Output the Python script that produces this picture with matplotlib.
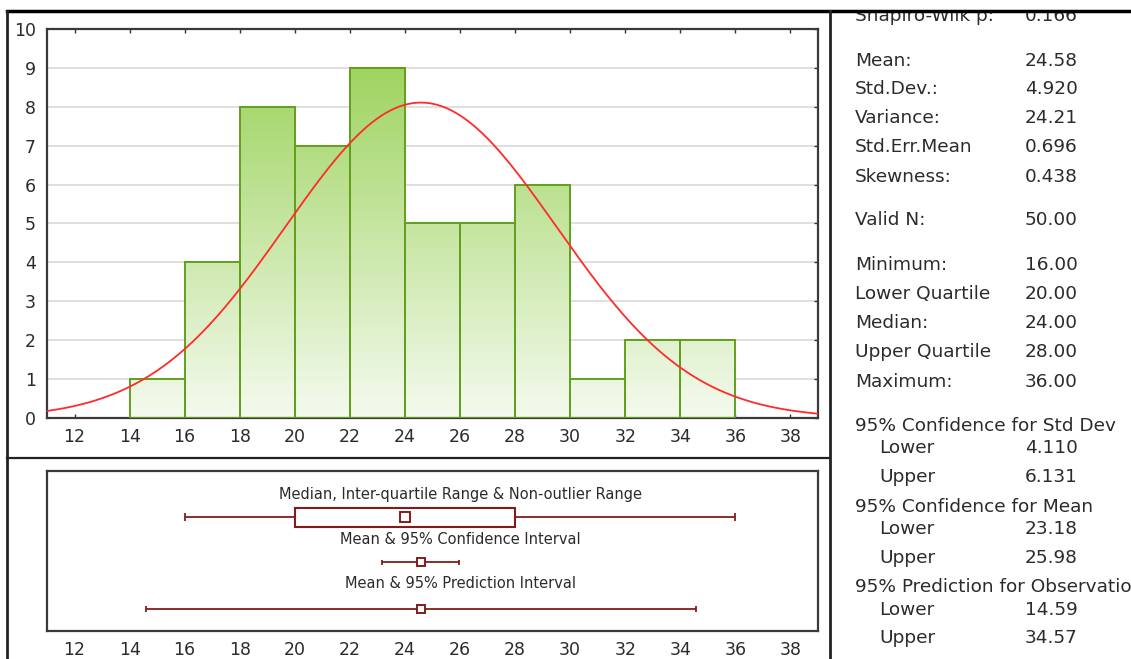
import matplotlib.pyplot as plt
import numpy as np
from matplotlib.colors import LinearSegmentedColormap
from matplotlib.lines import Line2D
from matplotlib.patches import Rectangle

plt.rcParams['font.family'] = ['DejaVu Sans']

# histogram of the 50 observations (bin width 2)
bin_edges = [14, 16, 18, 20, 22, 24, 26, 28, 30, 32, 34, 36]
counts = [1, 4, 8, 7, 9, 5, 5, 6, 1, 2, 2]

# descriptive statistics
shapiro_p = 0.166
mean = 24.58
std_dev = 4.920
variance = 24.21
std_err_mean = 0.696
skewness = 0.438
n_valid = 50
minimum = 16.0
lower_q = 20.0
median = 24.0
upper_q = 28.0
maximum = 36.0
ci_std = (4.110, 6.131)
ci_mean = (23.18, 25.98)
pred_obs = (14.59, 34.57)

x_ticks = list(range(12, 39, 2))
y_ticks = list(range(0, 11))

stat_names = ['Shapiro-Wilk p:', 'Mean:', 'Std.Dev.:', 'Variance:', 'Std.Err.Mean',
              'Skewness:', 'Valid N:', 'Minimum:', 'Lower Quartile', 'Median:',
              'Upper Quartile', 'Maximum:', '95% Confidence for Std Dev', 'Lower',
              'Upper', '95% Confidence for Mean', 'Lower', 'Upper',
              '95% Prediction for Observation', 'Lower', 'Upper']
stat_values = [f'{shapiro_p:.3f}', f'{mean:.2f}', f'{std_dev:.3f}', f'{variance:.2f}',
               f'{std_err_mean:.3f}', f'{skewness:.3f}', f'{n_valid:.2f}',
               f'{minimum:.2f}', f'{lower_q:.2f}', f'{median:.2f}', f'{upper_q:.2f}',
               f'{maximum:.2f}', '', f'{ci_std[0]:.3f}', f'{ci_std[1]:.3f}', '',
               f'{ci_mean[0]:.2f}', f'{ci_mean[1]:.2f}', '',
               f'{pred_obs[0]:.2f}', f'{pred_obs[1]:.2f}']

# layout in pixels
W, H = 1131, 659
row_y = [16, 61, 89, 118, 147, 177, 220, 265, 294, 323, 352, 382,
         426, 448, 477, 507, 529, 558, 587, 610, 638]


def fx(px):
    return px / W


def fy(py):
    return 1 - py / H


TXT = '#2b2b2b'
MAROON = '#821c1c'

fig = plt.figure(figsize=(W / 100, H / 100), dpi=100)

# ---- histogram with fitted normal curve ----
ax = fig.add_axes([fx(47), fy(418), fx(818) - fx(47), fy(29) - fy(418)])
cmap = LinearSegmentedColormap.from_list('bar_fill', ['#f4faee', '#9bd25a'])
for x0, x1, c in zip(bin_edges[:-1], bin_edges[1:], counts):
    grad = np.linspace(0, c, 64).reshape(-1, 1)
    ax.imshow(grad, extent=(x0, x1, 0, c), origin='lower', cmap=cmap,
              vmin=0, vmax=9.5, aspect='auto', interpolation='bilinear', zorder=2)
ax.bar(bin_edges[:-1], counts, width=np.diff(bin_edges), align='edge',
       fill=False, edgecolor='#62a01c', linewidth=1.4, zorder=3)

bin_width = bin_edges[1] - bin_edges[0]
xs = np.linspace(11, 39, 400)
ys = n_valid * bin_width * np.exp(-0.5 * ((xs - mean) / std_dev) ** 2) / (std_dev * np.sqrt(2 * np.pi))
ax.plot(xs, ys, color='#ff2b2b', lw=1.3, zorder=4)

ax.set_xlim(11, 39)
ax.set_ylim(0, 10)
ax.set_xticks(x_ticks)
ax.set_yticks(y_ticks)
ax.yaxis.grid(True, color='#d9d9d9', lw=1.2)
ax.set_axisbelow(True)
ax.tick_params(axis='x', direction='in', top=True, bottom=True, length=3, width=1,
               color='#333333', pad=7, labelsize=12.5, labelcolor=TXT)
ax.tick_params(axis='y', direction='in', left=False, right=True, length=3, width=1,
               color='#333333', pad=8, labelsize=12.5, labelcolor=TXT)
for sp in ax.spines.values():
    sp.set_color('#3a3a3a')
    sp.set_linewidth(1.6)

# ---- box / interval panel ----
bx = fig.add_axes([fx(47), fy(631), fx(818) - fx(47), fy(471) - fy(631)])
bx.set_xlim(11, 39)
bx.set_ylim(160, 0)
bx.set_yticks([])
bx.set_xticks(x_ticks)
bx.tick_params(axis='x', length=0, pad=7, labelsize=12.5, labelcolor=TXT)
for sp in bx.spines.values():
    sp.set_color('#3a3a3a')
    sp.set_linewidth(1.6)

tr = bx.get_yaxis_transform()
bx.text(0.5357, 23, 'Median, Inter-quartile Range & Non-outlier Range', transform=tr,
        ha='center', va='center', fontsize=10.5, color=TXT)
bx.text(0.5357, 68, 'Mean & 95% Confidence Interval', transform=tr,
        ha='center', va='center', fontsize=10.5, color=TXT)
bx.text(0.5357, 113, 'Mean & 95% Prediction Interval', transform=tr,
        ha='center', va='center', fontsize=10.5, color=TXT)

# median, quartiles and non-outlier range
y1 = 46
bx.hlines(y1, minimum, lower_q, color=MAROON, lw=1.3)
bx.hlines(y1, upper_q, maximum, color=MAROON, lw=1.3)
bx.vlines([minimum, maximum], y1 - 4, y1 + 4, color=MAROON, lw=1.3)
bx.barh(y1, upper_q - lower_q, left=lower_q, height=19, color='white',
        edgecolor=MAROON, linewidth=1.5, zorder=2)
bx.plot(median, y1, 's', ms=6.5, mfc='white', mec=MAROON, mew=1.4, zorder=3)

# mean with confidence interval
y2 = 91
bx.hlines(y2, ci_mean[0], ci_mean[1], color=MAROON, lw=1.3)
bx.vlines(ci_mean, y2 - 2.5, y2 + 2.5, color=MAROON, lw=1.3)
bx.plot(mean, y2, 's', ms=6, mfc='white', mec=MAROON, mew=1.4, zorder=3)

# mean with prediction interval
y3 = 138
bx.hlines(y3, pred_obs[0], pred_obs[1], color=MAROON, lw=1.3)
bx.vlines(pred_obs, y3 - 3, y3 + 3, color=MAROON, lw=1.3)
bx.plot(mean, y3, 's', ms=6, mfc='white', mec=MAROON, mew=1.4, zorder=3)

# ---- statistics panel ----
for name, val, y in zip(stat_names, stat_values, row_y):
    x = 879 if name in ('Lower', 'Upper') else 855
    fig.text(fx(x), fy(y), name, ha='left', va='center', fontsize=13.3, color=TXT)
    if val:
        fig.text(fx(1025), fy(y), val, ha='left', va='center', fontsize=13.3, color=TXT)

# ---- outer frame ----
fig.add_artist(Rectangle((0, fy(10)), 1, 1 - fy(10), transform=fig.transFigure,
                         color='white', zorder=5))
fig.add_artist(Line2D([fx(7), fx(1131)], [fy(11), fy(11)], color='black', lw=2.5, zorder=6))
fig.add_artist(Line2D([fx(7), fx(7)], [fy(11), fy(659)], color='#222222', lw=2, zorder=6))
fig.add_artist(Line2D([fx(830), fx(830)], [fy(11), fy(659)], color='#222222', lw=2, zorder=6))
fig.add_artist(Line2D([fx(7), fx(830)], [fy(458), fy(458)], color='#222222', lw=1.6, zorder=6))

fig.savefig('out.png', dpi=100)
